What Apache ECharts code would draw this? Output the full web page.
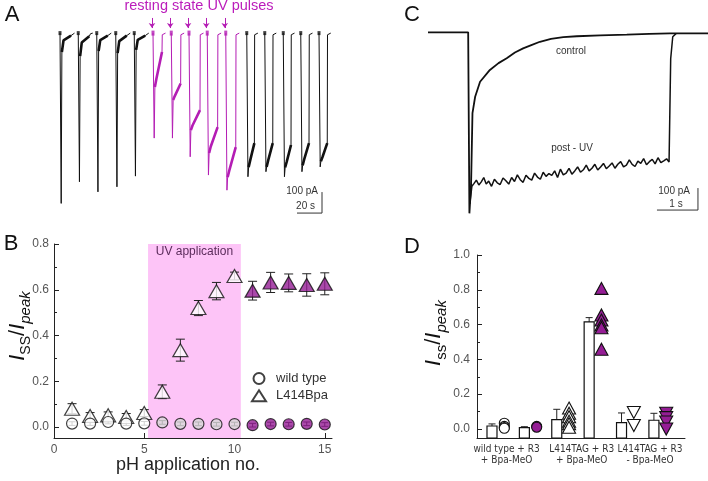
<!DOCTYPE html>
<html>
<head>
<meta charset="utf-8">
<script src="https://cdn.jsdelivr.net/npm/echarts@6/dist/echarts.min.js"></script>
<style>html,body{margin:0;padding:0;background:#fff}#main{width:708px;height:481px}</style>
</head>
<body>
<div id="main"></div>
<script>
// ---- panel A: one entry per pH application (time in s, current in pA) ----
const sweepOnset = [5.6, 20.2, 35, 50.2, 65, 80, 94.6, 108.8, 123.4, 138.2, 155, 169.4, 184.2, 198.2, 212.8];
const sweepPeak  = [-811, -708, -756, -732, -681, -500, -500, -589, -676, -748, -684, -660, -684, -660, -637];
const sweepFast  = [-90, -110, -85, -95, -80, -257, -319, -462, -571, -686, -638, -637, -640, -630, -610];
const sweepKnee  = [-35, -45, -33, -38, -32, -215, -300, -440, -540, -655, -605, -605, -612, -600, -590];
const sweepEnd   = [-12, -15, -12, -12, -12, -90, -240, -367, -448, -543, -524, -524, -533, -524, -524];
const sweepDur   = [8, 8, 8, 8, 8, 6.4, 6.7, 8, 7.5, 7.2, 5.3, 5.6, 5.4, 5.8, 5.8];
const uvSweep    = [0, 0, 0, 0, 0, 1, 1, 1, 1, 1, 0, 0, 0, 0, 0];

// ---- panel C: control and post-UV currents ----
const ctrlT = [0, 0.98, 1.01, 1.05, 1.085, 1.15, 1.27, 1.51, 1.72, 1.92, 2.12, 2.32, 2.52, 2.73, 3.0, 3.30, 3.63, 4.2, 4.85, 5.4, 5.90, 6.83];
const ctrlI = [0, 0, -823, -700, -367, -293, -225, -171, -140, -118, -92, -73, -58, -43, -30, -22, -18, -14, -11, -7, -5, -5];
const postT = [1.02, 1.07, 1.12, 1.18, 1.24, 1.30, 1.36, 1.42, 1.48, 1.55, 1.62, 1.69, 1.76, 1.83, 1.90, 1.97, 2.04, 2.11, 2.18, 2.25,
  2.32, 2.39, 2.46, 2.53, 2.60, 2.67, 2.74, 2.81, 2.88, 2.95, 3.02, 3.09, 3.16, 3.23, 3.30, 3.37, 3.44, 3.51, 3.58, 3.65,
  3.72, 3.79, 3.86, 3.93, 4.00, 4.07, 4.14, 4.21, 4.28, 4.35, 4.42, 4.49, 4.56, 4.63, 4.70, 4.77, 4.84, 4.91, 4.98, 5.05,
  5.12, 5.19, 5.26, 5.33, 5.40, 5.47, 5.54, 5.61, 5.68, 5.75, 5.82, 5.88, 5.92, 5.97, 6.05];
const postI = [-780, -700, -688, -672, -694, -680, -660, -690, -676, -700, -668, -684, -692, -662, -675, -690, -660, -678, -648, -670,
  -682, -650, -664, -672, -640, -658, -668, -636, -655, -642, -650, -630, -660, -622, -648, -640, -618, -645, -630, -612,
  -636, -625, -604, -630, -618, -600, -626, -612, -596, -620, -608, -594, -618, -600, -588, -612, -604, -580, -600, -610,
  -586, -596, -574, -602, -588, -578, -598, -570, -592, -584, -575, -590, -120, -20, -6];

// ---- panel B: Iss/Ipeak per application ----
const applNo  = [1, 2, 3, 4, 5, 6, 7, 8, 9, 10, 11, 12, 13, 14, 15];
const bpaMean = [0.08, 0.048, 0.051, 0.044, 0.061, 0.154, 0.336, 0.52, 0.594, 0.66, 0.596, 0.632, 0.63, 0.621, 0.626];
const bpaErr  = [0.022, 0.015, 0.015, 0.015, 0.015, 0.03, 0.048, 0.033, 0.038, 0.017, 0.041, 0.044, 0.039, 0.049, 0.048];
const wtMean  = [0.015, 0.015, 0.022, 0.015, 0.016, 0.02, 0.014, 0.014, 0.012, 0.013, 0.008, 0.013, 0.012, 0.014, 0.011];
const wtErr   = [0.008, 0.008, 0.008, 0.008, 0.008, 0.008, 0.008, 0.008, 0.008, 0.008, 0.008, 0.008, 0.008, 0.008, 0.008];
const uvWindow = [5.21, 10.35];
const bTickX = [0, 5, 10, 15];
const bTickY = [0, 0.2, 0.4, 0.6, 0.8];
const bMinorY = [0.1, 0.3, 0.5, 0.7];

// ---- panel D: bars and single cells ----
const dBarX    = [1, 2, 3, 4, 5, 6];
const dBarMean = [0.017, 0.008, 0.054, 0.615, 0.036, 0.05];
const dBarErr  = [0.012, 0.005, 0.059, 0.025, 0.056, 0.04];
const wtOpen      = [0.033, 0.015, 0.008, 0.004];
const wtFilled    = [0.015, 0.01];
const tagOpen     = [0.12, 0.09, 0.07, 0.045, 0.03, 0.01];
const tagFilled   = [0.808, 0.655, 0.626, 0.598, 0.582, 0.458];
const noBpaOpen   = [0.095, 0.02];
const noBpaFilled = [0.09, 0.065, 0.04, 0.0];
const dGroupX = [1.45, 3.77, 5.88];
const dGroupLabels = ['wild type + R3\n+ Bpa-MeO', 'L414TAG + R3\n+ Bpa-MeO', 'L414TAG + R3\n- Bpa-MeO'];
const dTickY = [0, 0.2, 0.4, 0.6, 0.8, 1.0];
const dMinorY = [0.1, 0.3, 0.5, 0.7, 0.9];

const font = 'Liberation Sans, Arial, sans-serif';
const narrow = 'Liberation Sans Narrow, DejaVu Sans Condensed, Arial, sans-serif';
const purple = '#951d95';
const magenta = '#b41db4';
const ink = '#222';

function buildTrace(wantUV) {
  const thin = [], thick = [], marks = [];
  sweepOnset.forEach((t0, i) => {
    if (uvSweep[i] !== wantUV) return;
    const tEnd = t0 + sweepDur[i];
    marks.push([t0 - 0.8, 0]);
    thin.push([t0 - 0.8, 0], [t0, 0], [t0 + 0.15, sweepPeak[i]], [t0 + 0.7, sweepFast[i]],
      [t0 + 2, sweepKnee[i]], [tEnd, sweepEnd[i]], [tEnd + 0.2, -8], [tEnd + 1, -3], [tEnd + 2.8, 0], [tEnd + 2.8, '-']);
    thick.push([t0 + 0.7, sweepFast[i]], [t0 + 2, sweepKnee[i]], [tEnd, sweepEnd[i]], [tEnd, '-']);
  });
  return { thin, thick, marks };
}
const blackA = buildTrace(0);
const uvA = buildTrace(1);
const arrowLines = sweepOnset.filter((t, i) => uvSweep[i]).map(t => [{ coord: [t - 1.6, 72] }, { coord: [t - 1.6, 24] }]);

function scaleBar(t, i, dt, di) {
  return [[t - dt, i], [t, i], [t, i + di]];
}

function errorBars(capW, color) {
  return function (params, api) {
    const x = api.value(0);
    const lo = api.coord([x, api.value(1)]);
    const hi = api.coord([x, api.value(2)]);
    const st = { stroke: color, lineWidth: 1 };
    return { type: 'group', children: [
      { type: 'line', shape: { x1: lo[0], y1: lo[1], x2: hi[0], y2: hi[1] }, style: st },
      { type: 'line', shape: { x1: hi[0] - capW / 2, y1: hi[1], x2: hi[0] + capW / 2, y2: hi[1] }, style: st },
      { type: 'line', shape: { x1: lo[0] - capW / 2, y1: lo[1], x2: lo[0] + capW / 2, y2: lo[1] }, style: st }
    ] };
  };
}

function barRender(params, api) {
  const x = api.value(0), m = api.value(1), e = api.value(2);
  const top = api.coord([x, m]);
  const errTop = api.coord([x, m + e]);
  const bottom = params.coordSys.y + params.coordSys.height;
  const w = 10;
  return { type: 'group', children: [
    { type: 'line', shape: { x1: top[0], y1: top[1], x2: errTop[0], y2: errTop[1] }, style: { stroke: ink, lineWidth: 1 } },
    { type: 'line', shape: { x1: top[0] - 3.5, y1: errTop[1], x2: top[0] + 3.5, y2: errTop[1] }, style: { stroke: ink, lineWidth: 1 } },
    { type: 'rect', shape: { x: top[0] - w / 2, y: top[1], width: w, height: bottom - top[1] }, style: { fill: '#fff', stroke: '#111', lineWidth: 1.2 } }
  ] };
}

function dots(name, xPos, values, symbol, size, fill, rotate) {
  return {
    name, type: 'scatter', xAxisIndex: 3, yAxisIndex: 4,
    symbol, symbolSize: size, symbolRotate: rotate || 0,
    itemStyle: { color: fill, borderColor: '#111', borderWidth: 1.1, opacity: 1 },
    data: values.map(v => [xPos, v])
  };
}

const tickLabel = { color: '#555', fontSize: 12, fontFamily: font };
const axisInk = { color: ink, width: 1 };

const chart = echarts.init(document.getElementById('main'));
const option = {
  animation: false,
  backgroundColor: '#fff',
  textStyle: { fontFamily: font },
  grid: [
    { left: 54, top: 10, width: 280, height: 212.1 },
    { left: 428, top: 20.2, width: 280, height: 200.2 },
    { left: 54, top: 244, width: 278, height: 194 },
    { left: 477, top: 255, width: 208, height: 183 }
  ],
  xAxis: [
    { type: 'value', gridIndex: 0, min: 0, max: 224, show: false },
    { type: 'value', gridIndex: 1, min: 0, max: 6.83, show: false },
    { type: 'value', gridIndex: 2, min: 0, max: 15.4, position: 'bottom',
      axisLine: { show: true, onZero: false, lineStyle: axisInk },
      axisTick: { show: true, inside: true, length: 5, customValues: bTickX, lineStyle: axisInk },
      axisLabel: { customValues: bTickX, margin: 6, ...tickLabel },
      splitLine: { show: false } },
    { type: 'value', gridIndex: 3, min: 0.537, max: 6.96, position: 'bottom',
      axisLine: { show: true, onZero: false, lineStyle: axisInk },
      axisTick: { show: false },
      axisLabel: { customValues: dGroupX, margin: 6, color: '#333', fontSize: 10, lineHeight: 11,
        fontFamily: narrow, showMinLabel: true, showMaxLabel: true, hideOverlap: false,
        formatter: v => { let k = 0; dGroupX.forEach((g, i) => { if (Math.abs(g - v) < Math.abs(dGroupX[k] - v)) k = i; }); return dGroupLabels[k]; } },
      splitLine: { show: false } }
  ],
  yAxis: [
    { type: 'value', gridIndex: 0, min: -900, max: 110, show: false },
    { type: 'value', gridIndex: 1, min: -855, max: 55, show: false },
    { type: 'value', gridIndex: 2, min: -0.048, max: 0.8, position: 'left',
      axisLine: { show: true, onZero: false, lineStyle: axisInk },
      axisTick: { show: true, inside: true, length: 5, customValues: bTickY, lineStyle: axisInk },
      axisLabel: { customValues: bTickY, margin: 5, formatter: v => v.toFixed(1), ...tickLabel },
      splitLine: { show: false } },
    { type: 'value', gridIndex: 2, min: -0.048, max: 0.8, position: 'left',
      axisLine: { show: false, onZero: false }, axisLabel: { show: false }, splitLine: { show: false },
      axisTick: { show: true, inside: true, length: 3, customValues: bMinorY, lineStyle: axisInk } },
    { type: 'value', gridIndex: 3, min: -0.052, max: 1.0, position: 'left',
      axisLine: { show: true, onZero: false, lineStyle: axisInk },
      axisTick: { show: true, inside: true, length: 5, customValues: dTickY, lineStyle: axisInk },
      axisLabel: { customValues: dTickY, margin: 7, formatter: v => v.toFixed(1), ...tickLabel },
      splitLine: { show: false } },
    { type: 'value', gridIndex: 3, min: -0.052, max: 1.0, position: 'left',
      axisLine: { show: false, onZero: false }, axisLabel: { show: false }, splitLine: { show: false },
      axisTick: { show: true, inside: true, length: 3, customValues: dMinorY, lineStyle: axisInk } }
  ],
  legend: {
    data: ['wild type', 'L414Bpa'], orient: 'vertical', left: 251, top: 372, padding: 0,
    itemWidth: 14, itemHeight: 11, itemGap: 4.3, selectedMode: false,
    textStyle: { fontSize: 13, color: '#333', fontFamily: font, padding: [0, 0, 0, 5] }
  },
  series: [
    // panel A
    { type: 'line', xAxisIndex: 0, yAxisIndex: 0, showSymbol: false, data: blackA.thin, lineStyle: { color: '#111', width: 1 } },
    { type: 'line', xAxisIndex: 0, yAxisIndex: 0, showSymbol: false, data: blackA.thick, lineStyle: { color: '#111', width: 2.6 } },
    { type: 'line', xAxisIndex: 0, yAxisIndex: 0, showSymbol: false, data: uvA.thin, lineStyle: { color: magenta, width: 1 },
      markLine: { silent: true, symbol: ['none', 'arrow'], symbolSize: 5, label: { show: false },
        lineStyle: { color: magenta, width: 1, type: 'solid' }, data: arrowLines } },
    { type: 'line', xAxisIndex: 0, yAxisIndex: 0, showSymbol: false, data: uvA.thick, lineStyle: { color: magenta, width: 2.6 } },
    { type: 'scatter', xAxisIndex: 0, yAxisIndex: 0, symbol: 'rect', symbolSize: [3, 4], itemStyle: { color: '#111' }, data: blackA.marks },
    { type: 'scatter', xAxisIndex: 0, yAxisIndex: 0, symbol: 'rect', symbolSize: [3, 5], itemStyle: { color: magenta }, data: uvA.marks },
    { type: 'line', xAxisIndex: 0, yAxisIndex: 0, showSymbol: false, data: scaleBar(214.4, -857, 20, 100), lineStyle: { color: '#333', width: 1 } },
    // panel C
    { type: 'line', xAxisIndex: 1, yAxisIndex: 1, showSymbol: false, data: ctrlT.map((t, i) => [t, ctrlI[i]]), lineStyle: { color: '#111', width: 1.8 } },
    { type: 'line', xAxisIndex: 1, yAxisIndex: 1, showSymbol: false, data: postT.map((t, i) => [t, postI[i]]), lineStyle: { color: '#111', width: 1.5 } },
    { type: 'line', xAxisIndex: 1, yAxisIndex: 1, showSymbol: false, data: scaleBar(6.585, -808, 1, 100), lineStyle: { color: '#333', width: 1 } },
    // panel B
    { type: 'custom', xAxisIndex: 2, yAxisIndex: 2, renderItem: errorBars(9, ink),
      data: applNo.map((x, i) => [x, bpaMean[i] - bpaErr[i], bpaMean[i] + bpaErr[i]]),
      markArea: { silent: true, itemStyle: { color: '#fdc4f7' },
        label: { show: true, position: 'insideTop', distance: 2, color: '#5b2c5b', fontSize: 12, fontFamily: font },
        data: [[{ name: 'UV application', xAxis: uvWindow[0] }, { xAxis: uvWindow[1] }]] } },
    { name: 'L414Bpa', type: 'scatter', xAxisIndex: 2, yAxisIndex: 2, symbol: 'triangle', symbolSize: [15, 13],
      itemStyle: { color: '#fff', borderColor: '#111', borderWidth: 1.2 },
      data: applNo.slice(0, 10).map((x, i) => [x, bpaMean[i]]) },
    { name: 'L414Bpa UV', type: 'scatter', xAxisIndex: 2, yAxisIndex: 2, symbol: 'triangle', symbolSize: [15, 13],
      itemStyle: { color: purple, borderColor: '#111', borderWidth: 1.2 },
      data: applNo.slice(10).map((x, i) => [x, bpaMean[i + 10]]) },
    { name: 'wild type', type: 'scatter', xAxisIndex: 2, yAxisIndex: 2, symbol: 'circle', symbolSize: 11,
      itemStyle: { color: '#fff', borderColor: '#111', borderWidth: 1.2 },
      data: applNo.slice(0, 5).map((x, i) => [x, wtMean[i]]) },
    { name: 'wild type mid', type: 'scatter', xAxisIndex: 2, yAxisIndex: 2, symbol: 'circle', symbolSize: 11,
      itemStyle: { color: '#dadada', borderColor: '#111', borderWidth: 1.2 },
      data: applNo.slice(5, 10).map((x, i) => [x, wtMean[i + 5]]) },
    { name: 'wild type UV', type: 'scatter', xAxisIndex: 2, yAxisIndex: 2, symbol: 'circle', symbolSize: 11,
      itemStyle: { color: purple, borderColor: '#111', borderWidth: 1.2 },
      data: applNo.slice(10).map((x, i) => [x, wtMean[i + 10]]) },
    { type: 'custom', xAxisIndex: 2, yAxisIndex: 2, renderItem: errorBars(7, ink),
      data: applNo.map((x, i) => [x, wtMean[i] - wtErr[i], wtMean[i] + wtErr[i]]) },
    // panel D
    { type: 'custom', xAxisIndex: 3, yAxisIndex: 4, renderItem: barRender,
      data: dBarX.map((x, i) => [x, dBarMean[i], dBarErr[i]]) },
    dots('wt open', dBarX[0] + 0.38, wtOpen, 'circle', 10, '#fff'),
    dots('wt filled', dBarX[1] + 0.38, wtFilled, 'circle', 10, purple),
    dots('tag open', dBarX[2] + 0.38, tagOpen, 'triangle', [13, 12], '#fff'),
    dots('tag filled', dBarX[3] + 0.38, tagFilled, 'triangle', [13, 12], purple),
    dots('nobpa open', dBarX[4] + 0.38, noBpaOpen, 'triangle', [13, 12], '#fff', 180),
    dots('nobpa filled', dBarX[5] + 0.38, noBpaFilled, 'triangle', [13, 12], purple, 180)
  ],
  graphic: [
    { type: 'text', x: 12, y: 15, style: { text: 'A', font: '22px ' + font, fill: '#111', align: 'center', verticalAlign: 'middle' } },
    { type: 'text', x: 11, y: 244, style: { text: 'B', font: '22px ' + font, fill: '#111', align: 'center', verticalAlign: 'middle' } },
    { type: 'text', x: 412, y: 15, style: { text: 'C', font: '22px ' + font, fill: '#111', align: 'center', verticalAlign: 'middle' } },
    { type: 'text', x: 412, y: 247, style: { text: 'D', font: '22px ' + font, fill: '#111', align: 'center', verticalAlign: 'middle' } },
    { type: 'text', x: 199, y: 6, style: { text: 'resting state UV pulses', font: '14.5px ' + font, fill: '#bb1cbb', align: 'center', verticalAlign: 'middle' } },
    { type: 'text', x: 318, y: 191.5, style: { text: '100 pA', font: '10px ' + font, fill: '#333', align: 'right', verticalAlign: 'middle' } },
    { type: 'text', x: 315, y: 206, style: { text: '20 s', font: '10px ' + font, fill: '#333', align: 'right', verticalAlign: 'middle' } },
    { type: 'text', x: 690, y: 191.5, style: { text: '100 pA', font: '10px ' + font, fill: '#333', align: 'right', verticalAlign: 'middle' } },
    { type: 'text', x: 676, y: 204.5, style: { text: '1 s', font: '10px ' + font, fill: '#333', align: 'center', verticalAlign: 'middle' } },
    { type: 'text', x: 571, y: 51, style: { text: 'control', font: '10px ' + font, fill: '#333', align: 'center', verticalAlign: 'middle' } },
    { type: 'text', x: 572, y: 148, style: { text: 'post - UV', font: '10px ' + font, fill: '#333', align: 'center', verticalAlign: 'middle' } },
    { type: 'text', x: 188, y: 465, style: { text: 'pH application no.', font: '18px ' + font, fill: '#222', align: 'center', verticalAlign: 'middle' } },
    { type: 'text', x: 18, y: 326, rotation: Math.PI / 2, style: {
      text: '{i|I}{s|SS}{n|/}{i|I}{p|peak}', align: 'center', verticalAlign: 'middle',
      rich: {
        i: { fontSize: 22, fontStyle: 'italic', fontFamily: font, lineHeight: 30, fill: '#111' },
        n: { fontSize: 22, fontFamily: font, lineHeight: 30, fill: '#111' },
        s: { fontSize: 14, fontFamily: font, lineHeight: 16, verticalAlign: 'bottom', fill: '#111' },
        p: { fontSize: 15, fontStyle: 'italic', fontFamily: font, lineHeight: 16, verticalAlign: 'bottom', fill: '#111' }
      } } },
    { type: 'text', x: 434, y: 333, rotation: Math.PI / 2, style: {
      text: '{i|I}{s|ss}{n|/}{i|I}{p|peak}', align: 'center', verticalAlign: 'middle',
      rich: {
        i: { fontSize: 22, fontStyle: 'italic', fontFamily: font, lineHeight: 30, fill: '#111' },
        n: { fontSize: 22, fontFamily: font, lineHeight: 30, fill: '#111' },
        s: { fontSize: 15, fontFamily: font, lineHeight: 16, verticalAlign: 'bottom', fill: '#111' },
        p: { fontSize: 15, fontStyle: 'italic', fontFamily: font, lineHeight: 16, verticalAlign: 'bottom', fill: '#111' }
      } } }
  ]
};
chart.setOption(option);
</script>
</body>
</html>
